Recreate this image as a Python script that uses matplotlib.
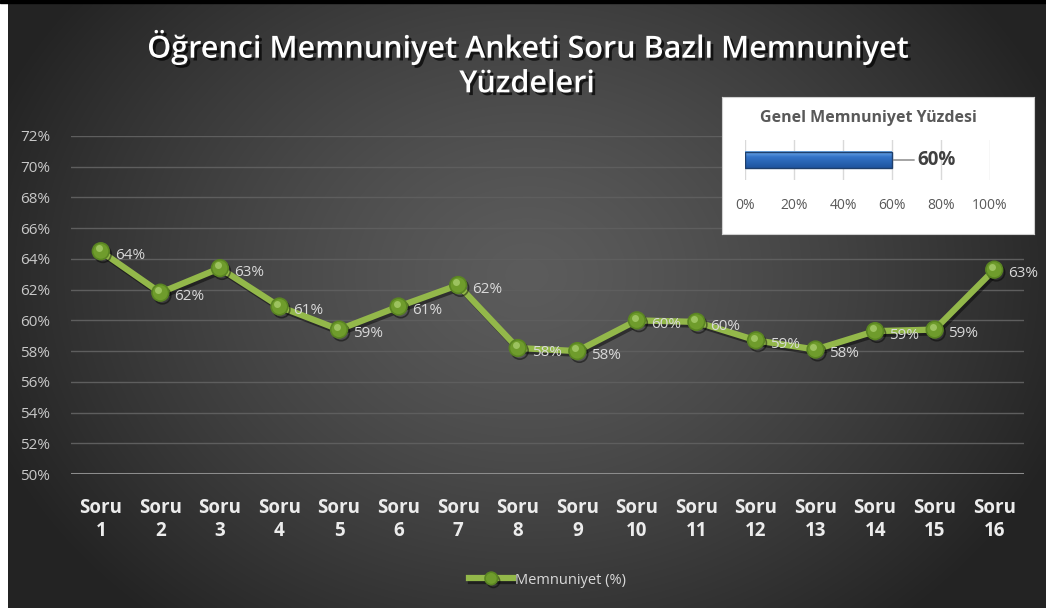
import numpy as np
import matplotlib
matplotlib.use("Agg")
import matplotlib.pyplot as plt
import matplotlib.patheffects as pe
import matplotlib.transforms as mtransforms
from matplotlib.patches import Rectangle

plt.rcParams['font.family'] = ['Open Sans', 'DejaVu Sans']

# data
questions = ['Soru\n%d' % i for i in range(1, 17)]
satisfaction = [64.5, 61.8, 63.4, 60.9, 59.4, 60.9, 62.3, 58.2,
                58.0, 60.0, 59.9, 58.7, 58.1, 59.3, 59.4, 63.3]
y_ticks = list(range(50, 73, 2))
overall = 60
overall_ticks = [0, 20, 40, 60, 80, 100]

title = 'Öğrenci Memnuniyet Anketi Soru Bazlı Memnuniyet\nYüzdeleri'
inset_title = 'Genel Memnuniyet Yüzdesi'
series_name = 'Memnuniyet (%)'

W, H = 1046, 608
fig = plt.figure(figsize=(W / 100, H / 100), dpi=100)
fig.patch.set_facecolor('white')

# radial dark gradient background
bg = fig.add_axes([8 / W, 0, (W - 8) / W, (H - 3) / H])
bg.set_axis_off()
yy, xx = np.mgrid[0:1:300j, 0:1:500j]
r = np.sqrt(((xx - 0.5) / 0.55) ** 2 + ((yy - 0.45) / 0.75) ** 2)
r = np.clip(r, 0, 1)
shade = (0.36 - 0.22 * r ** 1.3)
img = np.dstack([shade, shade, shade])
bg.imshow(img, aspect='auto', extent=[0, 1, 0, 1], interpolation='bicubic')
fig.add_artist(Rectangle((0, (H - 3) / H), 1, 3 / H, transform=fig.transFigure,
                         color='black', zorder=0.5))

# main chart
ax = fig.add_axes([71 / W, (H - 474) / H, 953 / W, 338 / H])
ax.patch.set_alpha(0)
x = np.arange(len(questions))

ax.set_xlim(-0.5, len(questions) - 0.5)
ax.set_ylim(50, 72)
ax.set_yticks(y_ticks)
ax.set_yticklabels(['%d%%' % t for t in y_ticks])
ax.set_xticks(x)
ax.set_xticklabels(questions)
for s in ax.spines.values():
    s.set_visible(False)
ax.grid(axis='y', color='#5e5e5e', linewidth=1)
ax.axhline(50, color='#8c8c8c', linewidth=2.2, zorder=1)
ax.set_axisbelow(True)
ax.tick_params(axis='both', length=0)
ax.tick_params(axis='y', colors='#c8c8c8', labelsize=11, pad=15)
ax.tick_params(axis='x', colors='#ececec', labelsize=13.5, pad=17)
for lbl in ax.get_xticklabels():
    lbl.set_fontweight('bold')
    lbl.set_linespacing(1.2)

shadow = [pe.SimpleLineShadow(offset=(1.5, -2), shadow_color='black', alpha=0.45), pe.Normal()]
line, = ax.plot(x, satisfaction, color='#93b84a', linewidth=4.5, marker='o',
                markersize=12, markerfacecolor='#6f9c2c', markeredgecolor='#5a8522',
                markeredgewidth=1.2, zorder=3, label=series_name,
                path_effects=shadow)
hl = mtransforms.offset_copy(ax.transData, fig=fig, x=-1.5, y=2, units='points')
ax.plot(x, satisfaction, linestyle='none', marker='o', markersize=5,
        markerfacecolor='#a8cc6c', markeredgewidth=0, alpha=0.8,
        transform=hl, zorder=4)

for xi, v in zip(x, satisfaction):
    ax.annotate('%d%%' % round(v), (xi, v), xytext=(10, -3), textcoords='offset points',
                ha='left', va='center', color='#d9d9d9', fontsize=11, zorder=5)

leg = ax.legend(loc='center', bbox_to_anchor=(0.5, (H - 580 - (H - 474)) / 338),
                frameon=False, fontsize=10.5, handlelength=3.0, handletextpad=0.1,
                markerscale=0.75, labelcolor='#d9d9d9')

fig.text(527 / W, (H - 64) / H, title, ha='center', va='center', color='white',
         fontsize=22, fontweight='semibold', linespacing=1.2,
         path_effects=[pe.withSimplePatchShadow(offset=(2, -2), shadow_rgbFace='black', alpha=0.7)])

# inset: overall satisfaction
box = fig.add_axes([722 / W, (H - 234) / H, 312 / W, 137 / H])
box.set_xticks([])
box.set_yticks([])
box.set_facecolor('white')
for s in box.spines.values():
    s.set_color('#d0d0d0')
box.text(0.47, 0.85, inset_title, transform=box.transAxes, ha='center', va='center',
         color='#595959', fontsize=11.5, fontweight='bold')

ins = fig.add_axes([745 / W, (H - 180) / H, 245 / W, 40 / H])
ins.patch.set_alpha(0)
ins.set_xlim(0, 100)
ins.set_ylim(-0.5, 0.5)
ins.set_xticks(overall_ticks)
ins.set_xticklabels(['%d%%' % t for t in overall_ticks])
ins.set_yticks([])
for s in ins.spines.values():
    s.set_visible(False)
ins.grid(axis='x', color='#d9d9d9', linewidth=1)
ins.set_axisbelow(True)
ins.tick_params(axis='x', length=0, colors='#595959', labelsize=10, pad=13)

bar_h = 0.42
grad = np.linspace(0, 1, 50)
blue = np.array([[0.45, 0.68, 0.92], [0.20, 0.45, 0.78], [0.12, 0.33, 0.62]])
cols = np.where(grad[:, None] < 0.35,
                blue[0] + (blue[1] - blue[0]) * (grad[:, None] / 0.35),
                blue[1] + (blue[2] - blue[1]) * ((grad[:, None] - 0.35) / 0.65))
ins.imshow(cols[:, None, :], aspect='auto', extent=[0, overall, -bar_h / 2, bar_h / 2],
           zorder=2)
ins.barh([0], [overall], height=bar_h, color='none', edgecolor='#1f3f6b',
         linewidth=1, zorder=3)
ins.set_xlim(0, 100)
ins.set_ylim(-0.5, 0.5)
ins.annotate('%d%%' % overall, (overall, 0), xytext=(18, 0), textcoords='offset points',
             ha='left', va='center', color='#404040', fontsize=13.5, fontweight='bold',
             arrowprops=dict(arrowstyle='-', color='#808080', linewidth=1,
                             shrinkA=0, shrinkB=1))

fig.savefig('out.png', dpi=100, facecolor=fig.get_facecolor())
